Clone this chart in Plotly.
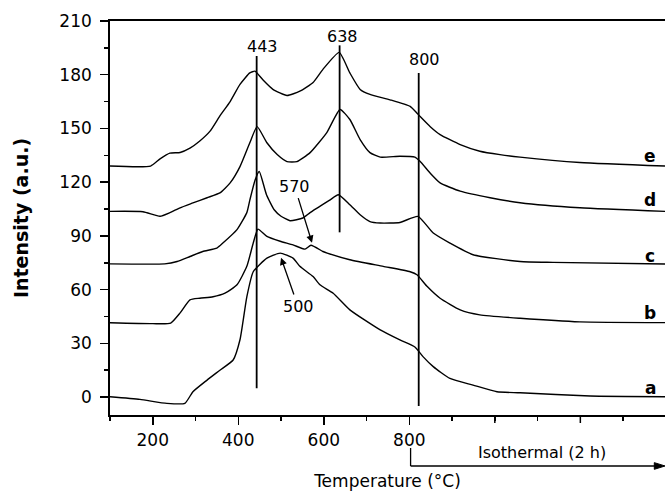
import plotly.graph_objects as go

# ---- data ----
a_x = [100, 170, 233, 275, 294, 327, 357, 388, 404, 420, 435, 467, 498, 528, 544, 575, 591, 622, 661, 732, 778, 813, 832, 856, 895, 949, 1005, 1059, 1223, 1398]
a_y = [0.2, -1.3, -3.5, -3.5, 3, 9.5, 15, 20.7, 32, 56, 70, 77.6, 80.4, 77.6, 73, 67.3, 62.7, 58, 48.7, 37.5, 31.9, 28, 22.6, 17, 10.4, 6.7, 3, 2.4, 0.6, 0.2]

b_x = [100, 200, 242, 264, 287, 310, 341, 369, 397, 420, 435, 446, 467, 498, 528, 556, 570, 598, 608, 661, 739, 802, 818, 842, 872, 919, 965, 1059, 1199, 1398]
b_y = [41.5, 41, 41.3, 47, 54.3, 55.2, 56, 58, 62.7, 73, 86, 93.8, 89.7, 87, 85, 82.6, 84.8, 81.3, 80.4, 76.7, 73, 70, 68.3, 61.7, 55.2, 48.7, 45.9, 44, 42, 41.6]

c_x = [100, 228, 257, 287, 317, 350, 364, 397, 420, 427, 439, 449, 466, 484, 500, 521, 551, 568, 614, 634, 661, 685, 708, 732, 778, 820, 856, 895, 949, 1059, 1136, 1398]
c_y = [74.4, 74.4, 75.7, 78.5, 81.3, 83.2, 86, 93.5, 103, 110, 121, 126, 113, 104.6, 101, 98.5, 100, 103, 110, 113, 107.4, 101.8, 98, 97.2, 97.5, 100.9, 91.6, 86, 79.5, 75.7, 75.2, 74.3]

d_x = [100, 177, 217, 240, 264, 294, 327, 357, 381, 404, 427, 444, 467, 491, 514, 537, 568, 607, 638, 661, 685, 708, 732, 778, 813, 825, 849, 872, 919, 989, 1059, 1199, 1398]
d_y = [103.7, 103.5, 101, 103, 105.7, 108.4, 111.3, 114, 119.6, 128.7, 142, 151, 142, 135.4, 131.5, 131.5, 136.5, 147.7, 160.6, 155, 143.8, 136.5, 134, 134.5, 134, 131.7, 125, 119.6, 115, 111.3, 108.5, 105.7, 103.7]

e_x = [100, 195, 217, 240, 264, 287, 310, 334, 357, 381, 404, 427, 439, 458, 481, 514, 544, 575, 598, 636, 661, 685, 708, 755, 802, 820, 849, 872, 919, 965, 1012, 1059, 1199, 1398]
e_y = [129, 129, 133, 136.2, 136.6, 139, 143, 148.5, 157, 165, 174.6, 181, 182, 177, 171.8, 168.4, 170.8, 175.7, 183, 192.5, 181, 171.8, 169, 166, 162.3, 158, 151, 146.6, 141, 137.3, 135.4, 134, 131, 129]

series_names = ["a", "b", "c", "d", "e"]
series_x = [a_x, b_x, c_x, d_x, e_x]
series_y = [a_y, b_y, c_y, d_y, e_y]
series_label_y = [5, 47, 79, 110, 134.5]
series_label_x = 1363

# vertical marker lines: position, bottom, top, label text, label position
peak_x = [443, 637, 822]
peak_bottom = [5, 92, -5]
peak_top = [190.4, 196.4, 181]
peak_text = ["443", "638", "800"]
peak_text_x = [456.7, 642.7, 835.7]
peak_text_y = [195.6, 201.2, 188.6]

# arrow annotations: text (at arrow tail) and arrow tip
arrow_text = ["570", "500"]
arrow_text_x = [531.6, 539.8]
arrow_text_y = [117.8, 50.6]
arrow_tip_x = [572.5, 500]
arrow_tip_y = [86.2, 77.8]

x_tickvals = [200, 400, 600, 800]
x_ticktext = ["200", "400", "600", "800"]
x_long_ticks = [1000, 1200]
y_tickvals = [0, 30, 60, 90, 120, 150, 180, 210]
y_ticktext = ["0", "30", "60", "90", "120", "150", "180", "210"]

iso_start = 803
iso_text = "Isothermal (2 h)"

FONT = "DejaVu Sans"
BOLD = "DejaVu Sans"
X_RANGE = [100, 1398]
PLOT_H = 494 - 21 - 79

fig = go.Figure()
for nm, xs, ys in zip(series_names, series_x, series_y):
    fig.add_trace(go.Scatter(x=xs, y=ys, mode="lines", name=nm,
                             line=dict(color="black", width=1.4, shape="spline", smoothing=0.5),
                             showlegend=False, hoverinfo="skip"))

for px, pb, pt in zip(peak_x, peak_bottom, peak_top):
    fig.add_trace(go.Scatter(x=[px, px], y=[pb, pt], mode="lines",
                             line=dict(color="black", width=1.8),
                             showlegend=False, hoverinfo="skip"))

ann = []
for t, tx, ty in zip(peak_text, peak_text_x, peak_text_y):
    ann.append(dict(x=tx, y=ty, xref="x", yref="y", text=t, showarrow=False,
                    font=dict(family=FONT, size=16, color="black")))
for t, tx, ty, tpx, tpy in zip(arrow_text, arrow_text_x, arrow_text_y, arrow_tip_x, arrow_tip_y):
    ann.append(dict(x=tpx, y=tpy, xref="x", yref="y", ax=tx, ay=ty, axref="x", ayref="y",
                    text=t, showarrow=True, arrowhead=2, arrowsize=1.1, arrowwidth=1.3,
                    arrowcolor="black", standoff=0, startstandoff=1,
                    font=dict(family=FONT, size=16, color="black")))
for nm, ly in zip(series_names, series_label_y):
    ann.append(dict(x=series_label_x, y=ly, xref="x", yref="y", text="<b>%s</b>" % nm,
                    showarrow=False, font=dict(family=BOLD, size=17, color="black")))

ann.append(dict(x=1110, y=-0.094, xref="x", yref="paper", xanchor="center", yanchor="middle",
                text=iso_text, showarrow=False,
                font=dict(family=FONT, size=16, color="black")))

# long unlabeled ticks in the isothermal region
shapes = []
for tv in x_long_ticks:
    shapes.append(dict(type="line", xref="x", yref="paper", x0=tv, x1=tv,
                       y0=0, y1=-8.0 / PLOT_H, line=dict(color="black", width=1.5)))

# isothermal bracket with arrow head
yb_top, yb_bot = -0.0838, -0.1294
tri_h = 0.0085
shapes += [
    dict(type="line", xref="x", yref="paper", x0=iso_start, x1=iso_start,
         y0=yb_top, y1=yb_bot, line=dict(color="black", width=1.3)),
    dict(type="line", xref="x", yref="paper", x0=iso_start, x1=X_RANGE[1] - 15,
         y0=yb_bot, y1=yb_bot, line=dict(color="black", width=1.3)),
    dict(type="path", xref="x", yref="paper",
         path="M %f,%f L %f,%f L %f,%f Z" % (X_RANGE[1] - 25, yb_bot + tri_h,
                                             X_RANGE[1], yb_bot,
                                             X_RANGE[1] - 25, yb_bot - tri_h),
         fillcolor="black", line=dict(color="black", width=1)),
]

fig.update_layout(
    width=665, height=494,
    margin=dict(l=110, r=0, t=21, b=79),
    paper_bgcolor="white", plot_bgcolor="white",
    showlegend=False,
    annotations=ann, shapes=shapes,
    xaxis=dict(range=X_RANGE, tickmode="array", tickvals=x_tickvals, ticktext=x_ticktext,
               ticks="outside", ticklen=8, tickwidth=1.5, tickcolor="black",
               minor=dict(dtick=100, tick0=0, ticks="outside", ticklen=4, tickwidth=1.5, tickcolor="black"),
               showline=True, linecolor="black", linewidth=1.8, mirror=True,
               showgrid=False, zeroline=False, ticklabelstandoff=1,
               tickfont=dict(family=FONT, size=17, color="black"),
               title=dict(text="Temperature (°C)", standoff=26,
                          font=dict(family=FONT, size=17, color="black"))),
    yaxis=dict(range=[-10, 210], tickmode="array", tickvals=y_tickvals, ticktext=y_ticktext,
               ticks="outside", ticklen=8, tickwidth=1.5, tickcolor="black",
               minor=dict(dtick=15, tick0=0, ticks="outside", ticklen=4, tickwidth=1.5, tickcolor="black"),
               showline=True, linecolor="black", linewidth=1.8, mirror=False,
               showgrid=False, zeroline=False, ticklabelstandoff=5,
               tickfont=dict(family=FONT, size=17, color="black"),
               title=dict(text="<b>Intensity (a.u.)</b>", standoff=26,
                          font=dict(family=BOLD, size=19, color="black"))),
)

fig.write_html("out.html", config={"displayModeBar": False, "staticPlot": True})
